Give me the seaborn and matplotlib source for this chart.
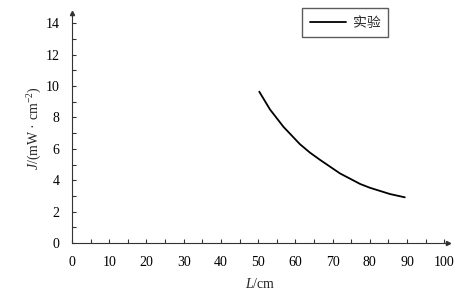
import matplotlib
matplotlib.use("Agg")
import matplotlib.pyplot as plt
import seaborn as sns
import pandas as pd
from matplotlib.ticker import MultipleLocator

# data
L_cm = [50.3, 53.2, 56.8, 61.2, 63.9, 66.6, 72.0, 77.4, 80.0, 85.4, 89.4]
J_val = [9.64, 8.5, 7.4, 6.3, 5.76, 5.3, 4.43, 3.76, 3.52, 3.12, 2.91]
series_name = "实验"

sns.set_theme(style="white")
plt.rcParams['font.family'] = ['Liberation Serif', 'Noto Sans CJK SC']
plt.rcParams['mathtext.fontset'] = 'custom'
plt.rcParams['mathtext.rm'] = 'Liberation Serif'
plt.rcParams['mathtext.it'] = 'Liberation Serif:italic'

df = pd.DataFrame({"L": L_cm, "J": J_val, "s": [series_name] * len(L_cm)})

fig = plt.figure(figsize=(4.77, 2.94), dpi=100)
ax = fig.add_axes([72 / 477, 1 - 243 / 294, (448 - 72) / 477, (243 - 13) / 294])
sns.lineplot(data=df, x="L", y="J", hue="s", palette=["black"], linewidth=1.3, ax=ax)

ax.set_xlim(0, 101)
ax.set_ylim(0, 14.65)
ax.xaxis.set_major_locator(MultipleLocator(10))
ax.xaxis.set_minor_locator(MultipleLocator(5))
ax.yaxis.set_major_locator(MultipleLocator(2))
ax.yaxis.set_minor_locator(MultipleLocator(1))
ax.tick_params(which='both', direction='in', length=3, width=0.8, color='#333333',
               labelsize=10, labelcolor='black', bottom=True, left=True)
ax.tick_params(axis='x', pad=9)
ax.tick_params(axis='y', pad=9)
for s in ['top', 'right']:
    ax.spines[s].set_visible(False)
for s in ['left', 'bottom']:
    ax.spines[s].set_color('#333333')
    ax.spines[s].set_linewidth(0.8)
ax.plot(1, 0, ">", transform=ax.transAxes, clip_on=False, color='#333333', markersize=3)
ax.plot(0, 1, "^", transform=ax.transAxes, clip_on=False, color='#333333', markersize=3)

ax.set_xlabel(r"$\mathit{L}$/cm", fontsize=10, labelpad=6)
ax.set_ylabel(r"$\mathit{J}$/(mW · cm$^{-2}$)", fontsize=10, labelpad=1)

leg = ax.legend(loc='upper right', bbox_to_anchor=((388 - 72) / 376, (243 - 8) / 230),
                borderaxespad=0, frameon=True, fancybox=False, edgecolor='#333333',
                handlelength=2.6, handletextpad=0.5, borderpad=0.55,
                prop={'family': ['Noto Sans CJK SC'], 'size': 10})
leg.get_frame().set_linewidth(1.0)
leg.get_frame().set_boxstyle('square', pad=0)

fig.savefig("out.png", dpi=100)
